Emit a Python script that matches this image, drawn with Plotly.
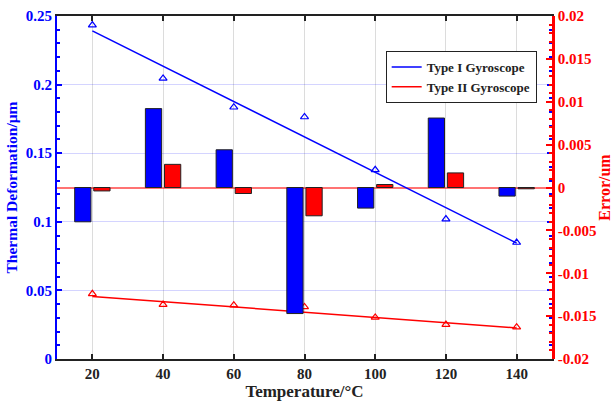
import plotly.graph_objects as go

temps = [20, 40, 60, 80, 100, 120, 140]
# Thermal deformation (left axis, um)
type1_deform = [0.2434, 0.2045, 0.1835, 0.1764, 0.1379, 0.1020, 0.0849]
type2_deform = [0.0475, 0.0397, 0.0392, 0.0380, 0.0303, 0.0251, 0.0232]
# Linear-fit end points
fit_x = [20, 140]
type1_fit = [0.2392, 0.0845]
type2_fit = [0.0456, 0.0226]
# Error (right axis, um)
type1_error = [-0.0040, 0.0092, 0.0044, -0.0147, -0.0024, 0.0081, -0.0010]
type2_error = [-0.0004, 0.0027, -0.0007, -0.0033, 0.00035, 0.0017, -0.00015]

x_ticks = [20, 40, 60, 80, 100, 120, 140]
left_ticks = [0, 0.05, 0.1, 0.15, 0.2, 0.25]
left_labels = ["0", "0.05", "0.1", "0.15", "0.2", "0.25"]
right_ticks = [-0.02, -0.015, -0.01, -0.005, 0, 0.005, 0.01, 0.015, 0.02]
right_labels = ["-0.02", "-0.015", "-0.01", "-0.005", "0", "0.005", "0.01", "0.015", "0.02"]

BLUE = "#0000FF"
RED = "#FF0000"
FONT = "Liberation Serif"

fig = go.Figure()

# bars on right axis
fig.add_trace(go.Bar(x=temps, y=type1_error, yaxis="y2", width=4.6, offset=-5.0,
                     marker=dict(color=BLUE, line=dict(color="#222", width=1)),
                     showlegend=False))
fig.add_trace(go.Bar(x=temps, y=type2_error, yaxis="y2", width=4.6, offset=0.4,
                     marker=dict(color=RED, line=dict(color="#222", width=1)),
                     showlegend=False))

# scatter + fit on left axis
fig.add_trace(go.Scatter(x=fit_x, y=type1_fit, mode="lines", line=dict(color=BLUE, width=1.5),
                         name="Type I Gyroscope"))
fig.add_trace(go.Scatter(x=fit_x, y=type2_fit, mode="lines", line=dict(color=RED, width=1.5),
                         name="Type II Gyroscope"))
fig.add_trace(go.Scatter(x=temps, y=type1_deform, mode="markers",
                         marker=dict(symbol="triangle-up-open", size=7, color=BLUE, line=dict(width=1.2)),
                         showlegend=False))
fig.add_trace(go.Scatter(x=temps, y=type2_deform, mode="markers",
                         marker=dict(symbol="triangle-up-open", size=7, color=RED, line=dict(width=1.2)),
                         showlegend=False))

fig.update_layout(
    width=613, height=402,
    margin=dict(l=57, r=61, t=16, b=43),
    paper_bgcolor="white", plot_bgcolor="white",
    barmode="overlay",
    font=dict(family=FONT, size=15, color="black"),
    xaxis=dict(range=[10, 150], tickvals=x_ticks, ticks="inside", ticklen=5,
               tickcolor="#222", tickwidth=1.5, showline=True, linecolor="#222", linewidth=2,
               mirror="ticks", showgrid=True, gridcolor="#dcdcdc", gridwidth=1,
               zeroline=False, automargin=False,
               tickfont=dict(family=FONT, size=15, color="#222", weight="bold"),
               title=dict(text="Temperature/°C", standoff=4,
                          font=dict(family=FONT, size=17, color="#222", weight="bold"))),
    yaxis=dict(range=[0, 0.25], tickvals=left_ticks, ticktext=left_labels,
               ticks="inside", ticklen=5, tickcolor=BLUE, tickwidth=1.5,
               showline=True, linecolor=BLUE, linewidth=2, mirror="ticks",
               showgrid=True, gridcolor="rgba(0,0,255,0.17)", zeroline=False,
               automargin=False,
               minor=dict(dtick=0.01, ticks="inside", ticklen=3, tickcolor=BLUE, showgrid=False),
               tickfont=dict(family=FONT, size=15, color=BLUE, weight="bold"),
               title=dict(text="Thermal Deformation/μm", standoff=4,
                          font=dict(family=FONT, size=15.5, color=BLUE, weight="bold"))),
    yaxis2=dict(range=[-0.02, 0.02], overlaying="y", side="right",
                tickvals=right_ticks, ticktext=right_labels,
                ticks="inside", ticklen=6, tickcolor=RED, tickwidth=1.5,
                showline=True, linecolor=RED, linewidth=2.5,
                showgrid=False, zeroline=True, zerolinecolor="rgba(255,0,0,0.55)", zerolinewidth=1.5,
                automargin=False,
                minor=dict(dtick=0.001, ticks="inside", ticklen=3, tickcolor=RED),
                tickfont=dict(family=FONT, size=15, color=RED, weight="bold"),
                title=dict(text="Error/um", standoff=4,
                           font=dict(family=FONT, size=16, color=RED, weight="bold"))),
    legend=dict(x=0.664, y=0.898, xanchor="left", yanchor="top",
                bgcolor="white", bordercolor="#222", borderwidth=1,
                font=dict(family=FONT, size=13, color="#222", weight="bold"),
                tracegroupgap=0, itemwidth=30),
)

fig.write_html("out.html")
